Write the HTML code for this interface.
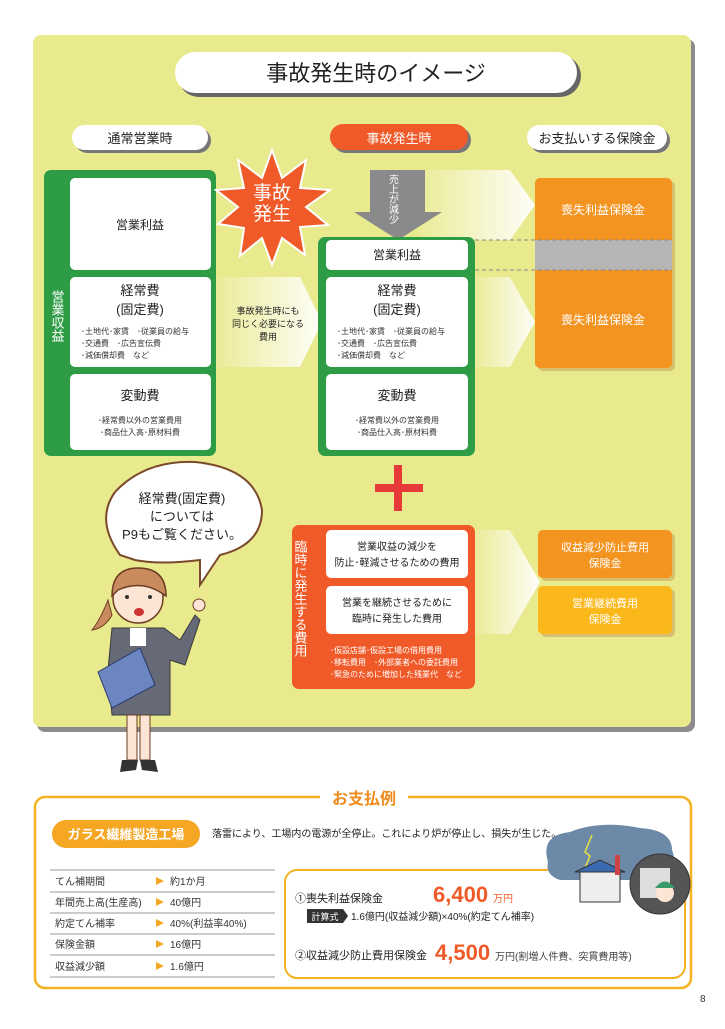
<!DOCTYPE html>
<html><head><meta charset="utf-8"><style>
html,body{margin:0;padding:0;background:#fff;}
body{width:725px;height:1024px;position:relative;overflow:hidden;font-family:"Liberation Sans","Noto Sans CJK JP",sans-serif;}
svg text{font-family:"Liberation Sans","Noto Sans CJK JP",sans-serif;}
</style></head><body>
<svg width="725" height="1024" viewBox="0 0 725 1024" xmlns="http://www.w3.org/2000/svg">
<defs>
<linearGradient id="fade" x1="0" x2="1" y1="0" y2="0">
<stop offset="0" stop-color="#fff" stop-opacity="0.1"/><stop offset="1" stop-color="#fff" stop-opacity="0.95"/></linearGradient>
</defs>
<!-- main panel -->
<rect x="37" y="39" width="658" height="693" rx="8" fill="#8c8c8c"/>
<rect x="33" y="35" width="658" height="692" rx="8" fill="#e9e98e"/>
<!-- title -->
<rect x="178" y="55" width="403" height="42" rx="21" fill="#666"/>
<rect x="175" y="52" width="402" height="41" rx="20.5" fill="#fff"/>
<text x="376" y="81" font-size="22" text-anchor="middle" fill="#222">事故発生時のイメージ</text>
<!-- headers -->
<rect x="75" y="128" width="136" height="25" rx="12.5" fill="#777"/>
<rect x="72" y="125" width="136" height="25" rx="12.5" fill="#fff"/>
<text x="140" y="143" font-size="13" text-anchor="middle" fill="#222">通常営業時</text>
<rect x="333" y="127" width="138" height="26" rx="13" fill="#777"/>
<rect x="330" y="124" width="138" height="26" rx="13" fill="#f05a28"/>
<text x="399" y="143" font-size="13" text-anchor="middle" fill="#fff">事故発生時</text>
<rect x="530" y="128" width="140" height="25" rx="12.5" fill="#777"/>
<rect x="527" y="125" width="140" height="25" rx="12.5" fill="#fff"/>
<text x="597" y="143" font-size="13" text-anchor="middle" fill="#222">お支払いする保険金</text>
<!-- fade arrows -->
<polygon points="420,170 510,170 535,205 510,240 420,240" fill="url(#fade)"/>
<polygon points="216,277 300,277 322,322 300,367 216,367" fill="url(#fade)"/>
<polygon points="475,277 510,277 535,322 510,367 475,367" fill="url(#fade)"/>
<polygon points="475,530 510,530 540,582 510,634 475,634" fill="url(#fade)"/>
<!-- left green -->
<rect x="44" y="170" width="172" height="286" rx="7" fill="#2d9c45"/>
<rect x="70" y="178" width="141" height="92" rx="5" fill="#fff"/>
<rect x="70" y="277" width="141" height="90" rx="5" fill="#fff"/>
<rect x="70" y="374" width="141" height="76" rx="5" fill="#fff"/>
<text x="140" y="229" font-size="12" text-anchor="middle" fill="#222">営業利益</text>
<text x="140" y="295" font-size="13" text-anchor="middle" fill="#222">経常費</text>
<text x="140" y="314" font-size="13" text-anchor="middle" fill="#222">(固定費)</text>
<text x="81" y="334" font-size="8" fill="#333">･土地代･家賃　･従業員の給与</text>
<text x="81" y="346" font-size="8" fill="#333">･交通費　･広告宣伝費</text>
<text x="81" y="358" font-size="8" fill="#333">･減価償却費　など</text>
<text x="140" y="400" font-size="13" text-anchor="middle" fill="#222">変動費</text>
<text x="140" y="423" font-size="8" text-anchor="middle" fill="#333">･経常費以外の営業費用</text>
<text x="140" y="435" font-size="8" text-anchor="middle" fill="#333">･商品仕入高･原材料費</text>
<text font-size="13" fill="#fff" x="57" y="290" style="writing-mode:vertical-rl">営業収益</text>
<text x="268" y="314" font-size="9" text-anchor="middle" fill="#222">事故発生時にも</text>
<text x="268" y="327" font-size="9" text-anchor="middle" fill="#222">同じく必要になる</text>
<text x="268" y="340" font-size="9" text-anchor="middle" fill="#222">費用</text>
<!-- starburst -->
<polygon points="272,150 282,178 306,160 300,188 330,190 306,207 328,225 300,227 305,255 282,238 272,265 262,238 240,256 244,228 218,224 238,207 216,190 244,188 238,160 262,178" fill="#f05a28" stroke="#fff" stroke-width="2"/>
<text x="272" y="199" font-size="19" text-anchor="middle" fill="#fff">事故</text>
<text x="272" y="220" font-size="19" text-anchor="middle" fill="#fff">発生</text>
<!-- gray arrow -->
<polygon points="370,170 425,170 425,212 442,212 398,240 354,212 370,212" fill="#8a8a8a"/>
<text font-size="10" fill="#fff" x="392" y="174" style="writing-mode:vertical-rl">売上が減少</text>
<!-- middle green -->
<rect x="318" y="237" width="157" height="219" rx="7" fill="#2d9c45"/>
<rect x="326" y="240" width="142" height="30" rx="5" fill="#fff"/>
<rect x="326" y="277" width="142" height="90" rx="5" fill="#fff"/>
<rect x="326" y="374" width="142" height="76" rx="5" fill="#fff"/>
<text x="397" y="259" font-size="12" text-anchor="middle" fill="#222">営業利益</text>
<text x="397" y="295" font-size="13" text-anchor="middle" fill="#222">経常費</text>
<text x="397" y="314" font-size="13" text-anchor="middle" fill="#222">(固定費)</text>
<text x="337" y="334" font-size="8" fill="#333">･土地代･家賃　･従業員の給与</text>
<text x="337" y="346" font-size="8" fill="#333">･交通費　･広告宣伝費</text>
<text x="337" y="358" font-size="8" fill="#333">･減価償却費　など</text>
<text x="397" y="400" font-size="13" text-anchor="middle" fill="#222">変動費</text>
<text x="397" y="423" font-size="8" text-anchor="middle" fill="#333">･経常費以外の営業費用</text>
<text x="397" y="435" font-size="8" text-anchor="middle" fill="#333">･商品仕入高･原材料費</text>
<!-- orange right -->
<rect x="538" y="181" width="137" height="190" rx="5" fill="#c9a55a" opacity="0.6"/>
<rect x="535" y="178" width="137" height="190" rx="5" fill="#f39320"/>
<rect x="535" y="240" width="137" height="30" fill="#b5b5b5"/>
<line x1="475" y1="240" x2="672" y2="240" stroke="#888" stroke-dasharray="4,3"/>
<line x1="475" y1="270" x2="672" y2="270" stroke="#888" stroke-dasharray="4,3"/>
<text x="603" y="214" font-size="12" text-anchor="middle" fill="#fff">喪失利益保険金</text>
<text x="603" y="324" font-size="12" text-anchor="middle" fill="#fff">喪失利益保険金</text>
<!-- plus -->
<rect x="375" y="484" width="48" height="8" fill="#e8393a"/>
<rect x="394" y="465" width="8" height="46" fill="#e8393a"/>
<!-- orange 臨時 -->
<rect x="292" y="525" width="183" height="164" rx="7" fill="#f05a28"/>
<rect x="326" y="530" width="142" height="48" rx="5" fill="#fff"/>
<rect x="326" y="586" width="142" height="48" rx="5" fill="#fff"/>
<text x="397" y="550" font-size="10" text-anchor="middle" fill="#222">営業収益の減少を</text>
<text x="397" y="566" font-size="10" text-anchor="middle" fill="#222">防止･軽減させるための費用</text>
<text x="397" y="606" font-size="10" text-anchor="middle" fill="#222">営業を継続させるために</text>
<text x="397" y="622" font-size="10" text-anchor="middle" fill="#222">臨時に発生した費用</text>
<text font-size="13" fill="#fff" x="300" y="540" style="writing-mode:vertical-rl">臨時に発生する費用</text>
<text x="330" y="653" font-size="8" fill="#fff">･仮設店舗･仮設工場の借用費用</text>
<text x="330" y="665" font-size="8" fill="#fff">･移転費用　･外部業者への委託費用</text>
<text x="330" y="677" font-size="8" fill="#fff">･緊急のために増加した残業代　など</text>
<rect x="541" y="533" width="134" height="48" rx="5" fill="#c9a55a" opacity="0.6"/>
<rect x="538" y="530" width="134" height="48" rx="5" fill="#f39320"/>
<rect x="541" y="589" width="134" height="48" rx="5" fill="#c9a55a" opacity="0.6"/>
<rect x="538" y="586" width="134" height="48" rx="5" fill="#fbb81b"/>
<text x="605" y="551" font-size="11" text-anchor="middle" fill="#fff">収益減少防止費用</text>
<text x="605" y="567" font-size="11" text-anchor="middle" fill="#fff">保険金</text>
<text x="605" y="607" font-size="11" text-anchor="middle" fill="#fff">営業継続費用</text>
<text x="605" y="623" font-size="11" text-anchor="middle" fill="#fff">保険金</text>
<!-- speech bubble -->
<path d="M120,555 Q95,520 115,492 Q145,460 195,462 Q255,468 262,510 Q262,545 220,555 L200,585 L200,560 Q160,565 135,560 Z" fill="#fff" stroke="#7a4a2a" stroke-width="2"/>
<text x="182" y="503" font-size="13" text-anchor="middle" fill="#222">経常費(固定費)</text>
<text x="182" y="521" font-size="13" text-anchor="middle" fill="#222">については</text>
<text x="182" y="539" font-size="13" text-anchor="middle" fill="#222">P9もご覧ください。</text>
<!-- woman -->
<path d="M108,600 Q100,620 92,630 Q105,628 112,615 Z" fill="#c98a5e" stroke="#6b3c22" stroke-width="1"/>
<circle cx="138" cy="598" r="25" fill="#fde5d5" stroke="#6b3c22" stroke-width="1.5"/>
<path d="M112,596 Q112,568 138,568 Q166,568 166,596 L160,592 Q140,580 118,590 Z" fill="#c98a5e" stroke="#6b3c22" stroke-width="1.5"/>
<circle cx="127" cy="597" r="2" fill="#333"/><circle cx="150" cy="597" r="2" fill="#333"/>
<ellipse cx="139" cy="612" rx="5" ry="4" fill="#c33"/>
<path d="M112,628 L164,628 L180,640 L195,615 L200,620 L185,665 L170,660 L170,715 L112,715 L108,670 Z" fill="#666a76" stroke="#3a3a3a" stroke-width="1"/>
<rect x="130" y="628" width="16" height="18" fill="#fff"/>
<polygon points="98,672 140,648 155,685 112,708" fill="#6b86c0" stroke="#2a3a6a" stroke-width="1"/>
<circle cx="199" cy="605" r="6" fill="#fde5d5" stroke="#6b3c22"/>
<rect x="127" y="715" width="10" height="45" fill="#fde5d5" stroke="#6b3c22"/>
<rect x="140" y="715" width="10" height="45" fill="#fde5d5" stroke="#6b3c22"/>
<path d="M122,760 L138,760 L136,770 L120,772 Z M140,760 L155,760 L158,772 L142,770 Z" fill="#333"/>
<!-- bottom section -->
<rect x="35" y="797" width="656" height="191" rx="10" fill="none" stroke="#f5b324" stroke-width="2.5"/>
<rect x="320" y="786" width="88" height="20" fill="#fff"/>
<text x="364" y="804" font-size="16" font-weight="bold" text-anchor="middle" fill="#f08c1e">お支払例</text>
<rect x="52" y="820" width="148" height="28" rx="14" fill="#f5a623"/>
<text x="126" y="839" font-size="13" font-weight="bold" text-anchor="middle" fill="#fff">ガラス繊維製造工場</text>
<text x="212" y="837" font-size="10" fill="#222">落雷により、工場内の電源が全停止。これにより炉が停止し、損失が生じた。</text>
<g stroke="#999" stroke-width="1">
<line x1="50" y1="870" x2="275" y2="870"/><line x1="50" y1="892" x2="275" y2="892"/><line x1="50" y1="913" x2="275" y2="913"/><line x1="50" y1="934" x2="275" y2="934"/><line x1="50" y1="955" x2="275" y2="955"/><line x1="50" y1="977" x2="275" y2="977"/>
</g>
<g font-size="10" fill="#333">
<text x="55" y="885">てん補期間</text><text x="55" y="906">年間売上高(生産高)</text><text x="55" y="927">約定てん補率</text><text x="55" y="948">保険金額</text><text x="55" y="970">収益減少額</text>
<text x="170" y="885">約1か月</text><text x="170" y="906">40億円</text><text x="170" y="927">40%(利益率40%)</text><text x="170" y="948">16億円</text><text x="170" y="970">1.6億円</text>
</g>
<g fill="#f5a623"><polygon points="156,877 164,881 156,885"/><polygon points="156,898 164,902 156,906"/><polygon points="156,919 164,923 156,927"/><polygon points="156,940 164,944 156,948"/><polygon points="156,962 164,966 156,970"/></g>
<rect x="285" y="870" width="400" height="108" rx="12" fill="#fff" stroke="#f5b324" stroke-width="2"/>
<text x="295" y="902" font-size="11" fill="#222">①喪失利益保険金</text>
<text x="433" y="902" font-size="22" font-weight="bold" fill="#f05a28">6,400</text><text x="493" y="902" font-size="10" fill="#f05a28">万円</text>
<rect x="307" y="909" width="36" height="14" fill="#333"/><text x="325" y="920" font-size="9" text-anchor="middle" fill="#fff">計算式</text>
<polygon points="343,909 348,916 343,923" fill="#333"/>
<text x="351" y="920" font-size="10" fill="#222">1.6億円(収益減少額)×40%(約定てん補率)</text>
<text x="295" y="959" font-size="11" fill="#222">②収益減少防止費用保険金</text>
<text x="435" y="960" font-size="22" font-weight="bold" fill="#f05a28">4,500</text><text x="495" y="960" font-size="10" fill="#444">万円(割増人件費、突貫費用等)</text>
<!-- illustration -->
<path d="M548,862 Q540,835 570,832 Q600,820 640,828 Q672,830 672,850 Q680,870 660,880 L560,880 Q545,875 548,862 Z" fill="#6d89a8"/>
<polyline points="592,835 585,852 590,856 582,875" fill="none" stroke="#e8e040" stroke-width="1.5"/>
<rect x="580" y="872" width="40" height="30" fill="#eee" stroke="#333"/>
<polygon points="575,872 600,860 625,872" fill="#3a6ab0" stroke="#333"/>
<rect x="615" y="855" width="5" height="20" fill="#c44"/>
<circle cx="660" cy="884" r="30" fill="#555" stroke="#333"/>
<rect x="640" y="868" width="30" height="30" fill="#ddd"/>
<circle cx="665" cy="893" r="9" fill="#fde5d5"/><path d="M655,888 Q665,875 675,888 Z" fill="#3a9a6a"/>
<text x="700" y="1002" font-size="10" fill="#333">8</text>
</svg>
</body></html>
